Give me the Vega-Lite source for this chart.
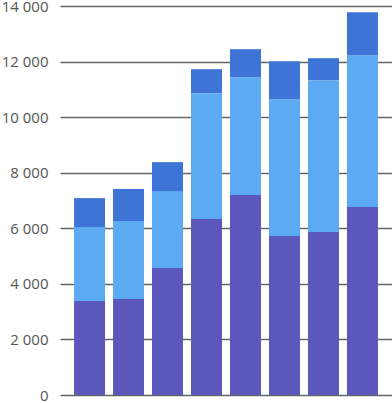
{
  "$schema": "https://vega.github.io/schema/vega-lite/v6.json",
  "width": 332,
  "height": 389,
  "autosize": "none",
  "padding": {"left": 60, "top": 6, "right": 0, "bottom": 8},
  "background": "white",
  "config": {"view": {"stroke": null}},
  "data": {"values": [
    {"bar": "1", "series": "A", "rank": 1, "value": 3381},
    {"bar": "1", "series": "B", "rank": 2, "value": 2662},
    {"bar": "1", "series": "C", "rank": 3, "value": 1043},
    {"bar": "2", "series": "A", "rank": 1, "value": 3453},
    {"bar": "2", "series": "B", "rank": 2, "value": 2806},
    {"bar": "2", "series": "C", "rank": 3, "value": 1151},
    {"bar": "3", "series": "A", "rank": 1, "value": 4568},
    {"bar": "3", "series": "B", "rank": 2, "value": 2770},
    {"bar": "3", "series": "C", "rank": 3, "value": 1043},
    {"bar": "4", "series": "A", "rank": 1, "value": 6331},
    {"bar": "4", "series": "B", "rank": 2, "value": 4532},
    {"bar": "4", "series": "C", "rank": 3, "value": 863},
    {"bar": "5", "series": "A", "rank": 1, "value": 7194},
    {"bar": "5", "series": "B", "rank": 2, "value": 4244},
    {"bar": "5", "series": "C", "rank": 3, "value": 1008},
    {"bar": "6", "series": "A", "rank": 1, "value": 5719},
    {"bar": "6", "series": "B", "rank": 2, "value": 4928},
    {"bar": "6", "series": "C", "rank": 3, "value": 1367},
    {"bar": "7", "series": "A", "rank": 1, "value": 5863},
    {"bar": "7", "series": "B", "rank": 2, "value": 5468},
    {"bar": "7", "series": "C", "rank": 3, "value": 791},
    {"bar": "8", "series": "A", "rank": 1, "value": 6762},
    {"bar": "8", "series": "B", "rank": 2, "value": 5468},
    {"bar": "8", "series": "C", "rank": 3, "value": 1546}
  ]},
  "mark": {"type": "bar"},
  "encoding": {
    "x": {
      "field": "bar", "type": "nominal",
      "scale": {"paddingInner": 0.205, "paddingOuter": 0.36},
      "axis": null
    },
    "y": {
      "field": "value", "type": "quantitative", "aggregate": "sum",
      "stack": "zero",
      "scale": {"domain": [0, 14000], "nice": false},
      "axis": {
        "title": null,
        "values": [0, 2000, 4000, 6000, 8000, 10000, 12000, 14000],
        "labelExpr": "replace(format(datum.value, ','), ',', ' ')",
        "domain": false,
        "ticks": false,
        "labelPadding": 12,
        "labelFont": "Open Sans",
        "labelFontSize": 15,
        "labelColor": "#555555",
        "grid": true,
        "gridColor": "#666666",
        "gridWidth": 1.3
      }
    },
    "color": {
      "field": "series", "type": "nominal",
      "scale": {"domain": ["A", "B", "C"], "range": ["#5c58bb", "#5caaf2", "#3d74d6"]},
      "legend": null
    },
    "order": {"field": "rank", "type": "quantitative"}
  }
}
